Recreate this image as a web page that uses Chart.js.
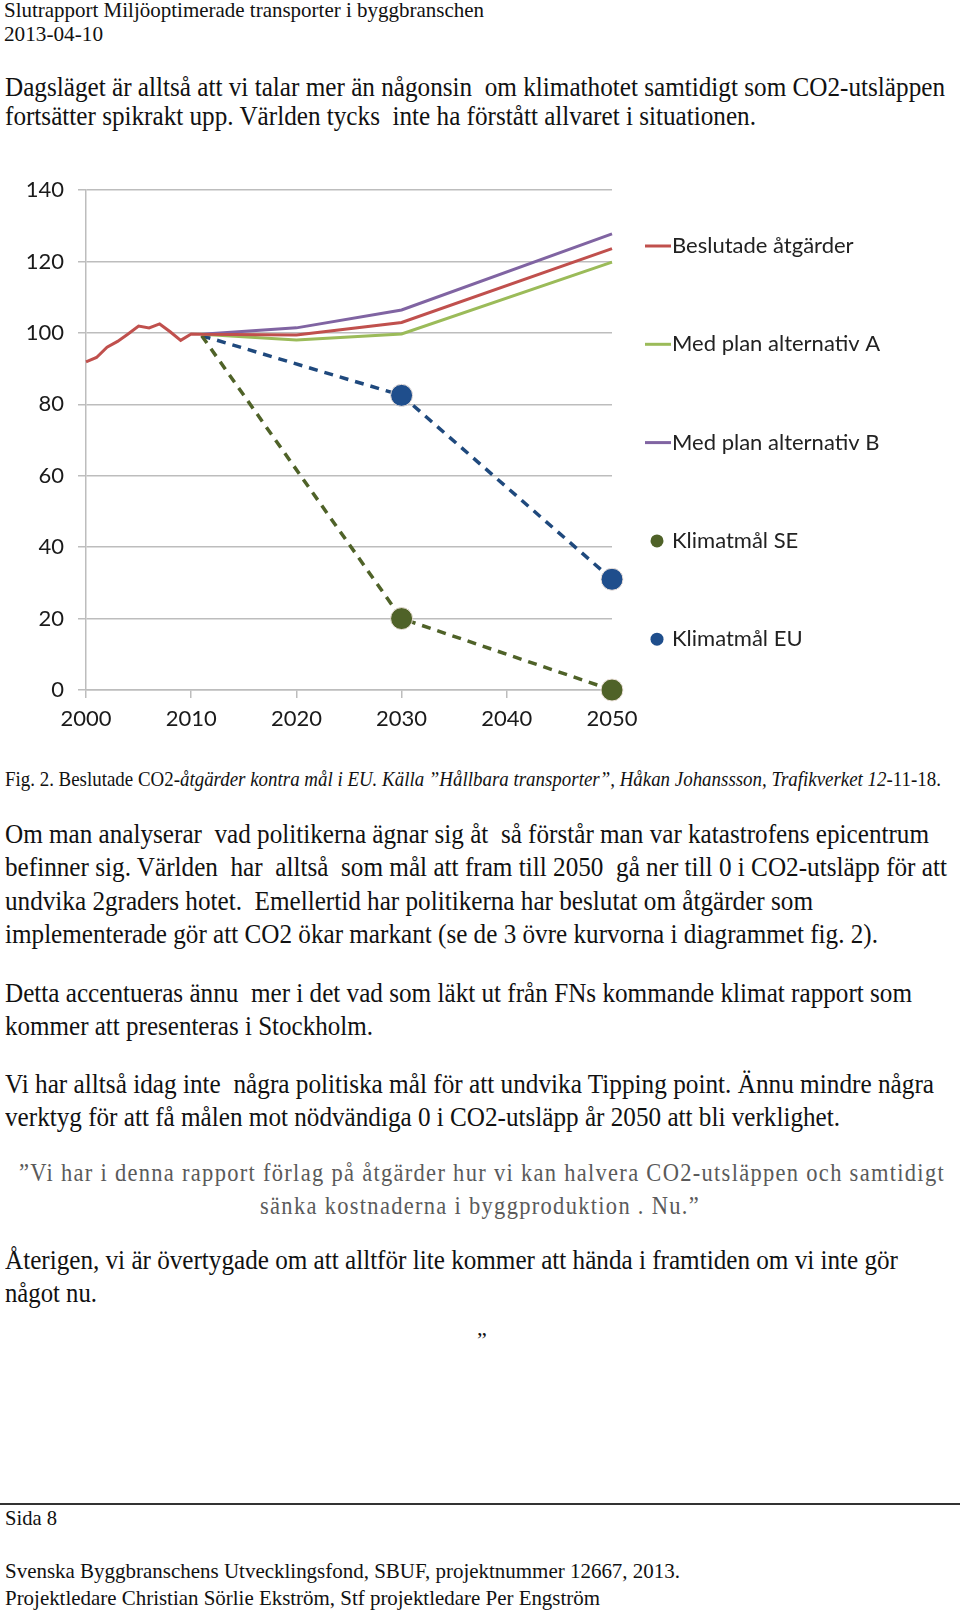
<!DOCTYPE html>
<html lang="sv">
<head>
<meta charset="utf-8">
<title>Slutrapport – Fig. 2</title>
<script src="https://cdn.jsdelivr.net/npm/chart.js@4.4.1/dist/chart.umd.min.js"></script>
<style>
  html, body { margin: 0; padding: 0; background: #fff; }
  body {
    width: 960px; height: 1613px; position: relative; overflow: hidden;
    font-family: 'Liberation Serif', 'Times New Roman', serif; color: #111;
  }
  .ln { position: absolute; white-space: pre; line-height: 1; transform-origin: 0 50%; }
  .quote { color: #5a5a5a; letter-spacing: 1.5px; }
  #chartWrap { position: absolute; left: 0; top: 150px; width: 960px; height: 600px; }
  .rule { position: absolute; left: 0; top: 1503px; width: 960px; height: 2px; background: #333; }
</style>
</head>
<body>

<div class="ln" style="top:-1px;left:4px;font-size:22px" data-r="484">Slutrapport Miljöoptimerade transporter i byggbranschen</div>
<div class="ln" style="top:23px;left:4px;font-size:22px" data-r="103">2013-04-10</div>

<div class="ln" style="top:73px;left:5px;font-size:28px" data-r="945">Dagsläget är alltså att vi talar mer än någonsin  om klimathotet samtidigt som CO2-utsläppen</div>
<div class="ln" style="top:102px;left:5px;font-size:28px" data-r="756">fortsätter spikrakt upp. Världen tycks  inte ha förstått allvaret i situationen.</div>

<div id="chartWrap"><canvas id="chartCO2" width="960" height="600"></canvas></div>

<div class="ln" style="top:769px;left:5px;font-size:21px" data-r="941">Fig. 2. Beslutade CO2-<i>åtgärder kontra mål i EU. Källa ”Hållbara transporter”, Håkan Johanssson, Trafikverket 12</i>-11-18.</div>

<div class="ln" style="top:820px;left:5px;font-size:28px" data-r="929">Om man analyserar  vad politikerna ägnar sig åt  så förstår man var katastrofens epicentrum</div>
<div class="ln" style="top:853px;left:5px;font-size:28px" data-r="947">befinner sig. Världen  har  alltså  som mål att fram till 2050  gå ner till 0 i CO2-utsläpp för att</div>
<div class="ln" style="top:887px;left:5px;font-size:28px" data-r="813">undvika 2graders hotet.  Emellertid har politikerna har beslutat om åtgärder som</div>
<div class="ln" style="top:920px;left:5px;font-size:28px" data-r="878">implementerade gör att CO2 ökar markant (se de 3 övre kurvorna i diagrammet fig. 2).</div>

<div class="ln" style="top:979px;left:5px;font-size:28px" data-r="912">Detta accentueras ännu  mer i det vad som läkt ut från FNs kommande klimat rapport som</div>
<div class="ln" style="top:1012px;left:5px;font-size:28px" data-r="373">kommer att presenteras i Stockholm.</div>

<div class="ln" style="top:1070px;left:5px;font-size:28px" data-r="934">Vi har alltså idag inte  några politiska mål för att undvika Tipping point. Ännu mindre några</div>
<div class="ln" style="top:1103px;left:5px;font-size:28px" data-r="840">verktyg för att få målen mot nödvändiga 0 i CO2-utsläpp år 2050 att bli verklighet.</div>

<div class="ln quote" style="top:1160px;left:19px;font-size:26px" data-r="945">”Vi har i denna rapport förlag på åtgärder hur vi kan halvera CO2-utsläppen och samtidigt</div>
<div class="ln quote" style="top:1193px;left:260px;font-size:26px" data-r="700">sänka kostnaderna i byggproduktion . Nu.”</div>

<div class="ln" style="top:1246px;left:5px;font-size:28px" data-r="898">Återigen, vi är övertygade om att alltför lite kommer att hända i framtiden om vi inte gör</div>
<div class="ln" style="top:1279px;left:5px;font-size:28px" data-r="97">något nu.</div>

<div class="ln" style="top:1329px;left:477px;font-size:22px">”</div>

<div class="rule"></div>
<div class="ln" style="top:1508px;left:5px;font-size:21px" data-r="57">Sida 8</div>
<div class="ln" style="top:1561px;left:5px;font-size:21px" data-r="680">Svenska Byggbranschens Utvecklingsfond, SBUF, projektnummer 12667, 2013.</div>
<div class="ln" style="top:1588px;left:5px;font-size:21px" data-r="600">Projektledare Christian Sörlie Ekström, Stf projektledare Per Engström</div>

<script>
// ── Data ──────────────────────────────────────────────────────────────────────
const yearsBeslutade  = [2000, 2001, 2002, 2003, 2004, 2005, 2006, 2007, 2008, 2009, 2010, 2011, 2020, 2030, 2050];
const valuesBeslutade = [91.9, 93.1, 96.0, 97.6, 99.7, 101.9, 101.4, 102.5, 100.3, 97.9, 99.7, 99.6, 99.4, 102.9, 123.6];

const yearsPlan   = [2011, 2020, 2030, 2050];
const valuesPlanA = [99.6, 98.0, 99.7, 119.8];
const valuesPlanB = [99.6, 101.4, 106.4, 127.7];

const yearsTarget    = [2011, 2030, 2050];
const valuesTargetSE = [99.2, 20, 0];
const valuesTargetEU = [99.2, 82.5, 31];

const xTicks = [2000, 2010, 2020, 2030, 2040, 2050];
const yTicks = [0, 20, 40, 60, 80, 100, 120, 140];

const labels = ['Beslutade åtgärder', 'Med plan alternativ A', 'Med plan alternativ B', 'Klimatmål SE', 'Klimatmål EU'];

// ── Helpers ───────────────────────────────────────────────────────────────────
const toPoints = (xs, ys) => xs.map((x, i) => ({ x, y: ys[i] }));

// Page text: squeeze each line to the width it has in the scan.
document.querySelectorAll('.ln[data-r]').forEach((el) => {
    const left   = parseFloat(el.style.left);
    const target = parseFloat(el.dataset.r) - left;
    const nat    = el.getBoundingClientRect().width;
    el.style.transform = `scaleX(${target / nat})`;
});

// Legend on the right, one entry per dataset, widely spaced.
const sideLegend = {
    id: 'sideLegend',
    afterDraw(chart, args, opts) {
        const { ctx } = chart;
        ctx.save();
        ctx.font = opts.font;
        ctx.textBaseline = 'middle';
        chart.data.datasets.forEach((ds, i) => {
            const y = opts.top + i * opts.step;
            if (ds.legendSymbol === 'circle') {
                ctx.beginPath();
                ctx.arc(opts.x + 12, y, 6.5, 0, Math.PI * 2);
                ctx.fillStyle = ds.pointBackgroundColor;
                ctx.fill();
            } else {
                ctx.beginPath();
                ctx.moveTo(opts.x, y);
                ctx.lineTo(opts.x + 26, y);
                ctx.strokeStyle = ds.borderColor;
                ctx.lineWidth   = 3;
                ctx.stroke();
            }
            ctx.fillStyle = opts.color;
            ctx.fillText(ds.label, opts.x + 27, y);
        });
        ctx.restore();
    },
};

const gridGray = '#bdbdbd';
const tickFont = { family: 'Lato, sans-serif', size: 22 };

new Chart(document.getElementById('chartCO2'), {
    type: 'line',
    data: {
        datasets: [
            {
                label: labels[0],
                data: toPoints(yearsBeslutade, valuesBeslutade),
                borderColor: '#c0504d',
                borderWidth: 3,
                pointRadius: 0,
                clip: false,
            },
            {
                label: labels[1],
                data: toPoints(yearsPlan, valuesPlanA),
                borderColor: '#9bbb59',
                borderWidth: 3,
                pointRadius: 0,
                clip: false,
            },
            {
                label: labels[2],
                data: toPoints(yearsPlan, valuesPlanB),
                borderColor: '#8064a2',
                borderWidth: 3,
                pointRadius: 0,
                clip: false,
            },
            {
                label: labels[3],
                data: toPoints(yearsTarget, valuesTargetSE),
                borderColor: '#4f6228',
                borderWidth: 3.5,
                borderDash: [9, 7],
                pointRadius: [0, 11, 11],
                pointBackgroundColor: '#4f6228',
                pointBorderColor: '#eee3dc',
                pointBorderWidth: 1,
                legendSymbol: 'circle',
                clip: false,
            },
            {
                label: labels[4],
                data: toPoints(yearsTarget, valuesTargetEU),
                borderColor: '#1f497d',
                borderWidth: 3.5,
                borderDash: [9, 7],
                pointRadius: [0, 11, 11],
                pointBackgroundColor: '#1f4e8c',
                pointBorderColor: '#eee3dc',
                pointBorderWidth: 1,
                legendSymbol: 'circle',
                clip: false,
            },
        ],
    },
    options: {
        responsive: false,
        devicePixelRatio: 1,
        animation: false,
        events: [],
        layout: { padding: { top: 40, right: 348, left: 0, bottom: 0 } },
        elements: { line: { tension: 0 } },
        scales: {
            x: {
                type: 'linear',
                min: 2000,
                max: 2050,
                afterFit: (s) => { s.height = 60; },
                afterBuildTicks: (s) => { s.ticks = xTicks.map((v) => ({ value: v })); },
                grid: { drawOnChartArea: false, drawTicks: true, tickLength: 8, color: gridGray, lineWidth: 1.5 },
                border: { display: true, color: gridGray, width: 1.5 },
                ticks: { font: tickFont, color: '#1a1a1a', padding: 8, callback: (v) => String(v), maxRotation: 0 },
            },
            y: {
                min: 0,
                max: 140,
                afterFit: (s) => { s.width = 86; },
                afterBuildTicks: (s) => { s.ticks = yTicks.map((v) => ({ value: v })); },
                grid: { color: gridGray, lineWidth: 1.5, tickLength: 8 },
                border: { display: true, color: gridGray, width: 1.5 },
                ticks: { font: tickFont, color: '#1a1a1a', padding: 14, callback: (v) => String(v) },
            },
        },
        plugins: {
            legend: { display: false },
            tooltip: { enabled: false },
            sideLegend: { x: 645, top: 96, step: 98.3, font: '22px Lato, sans-serif', color: '#222' },
        },
    },
    plugins: [sideLegend],
});
</script>
</body>
</html>
